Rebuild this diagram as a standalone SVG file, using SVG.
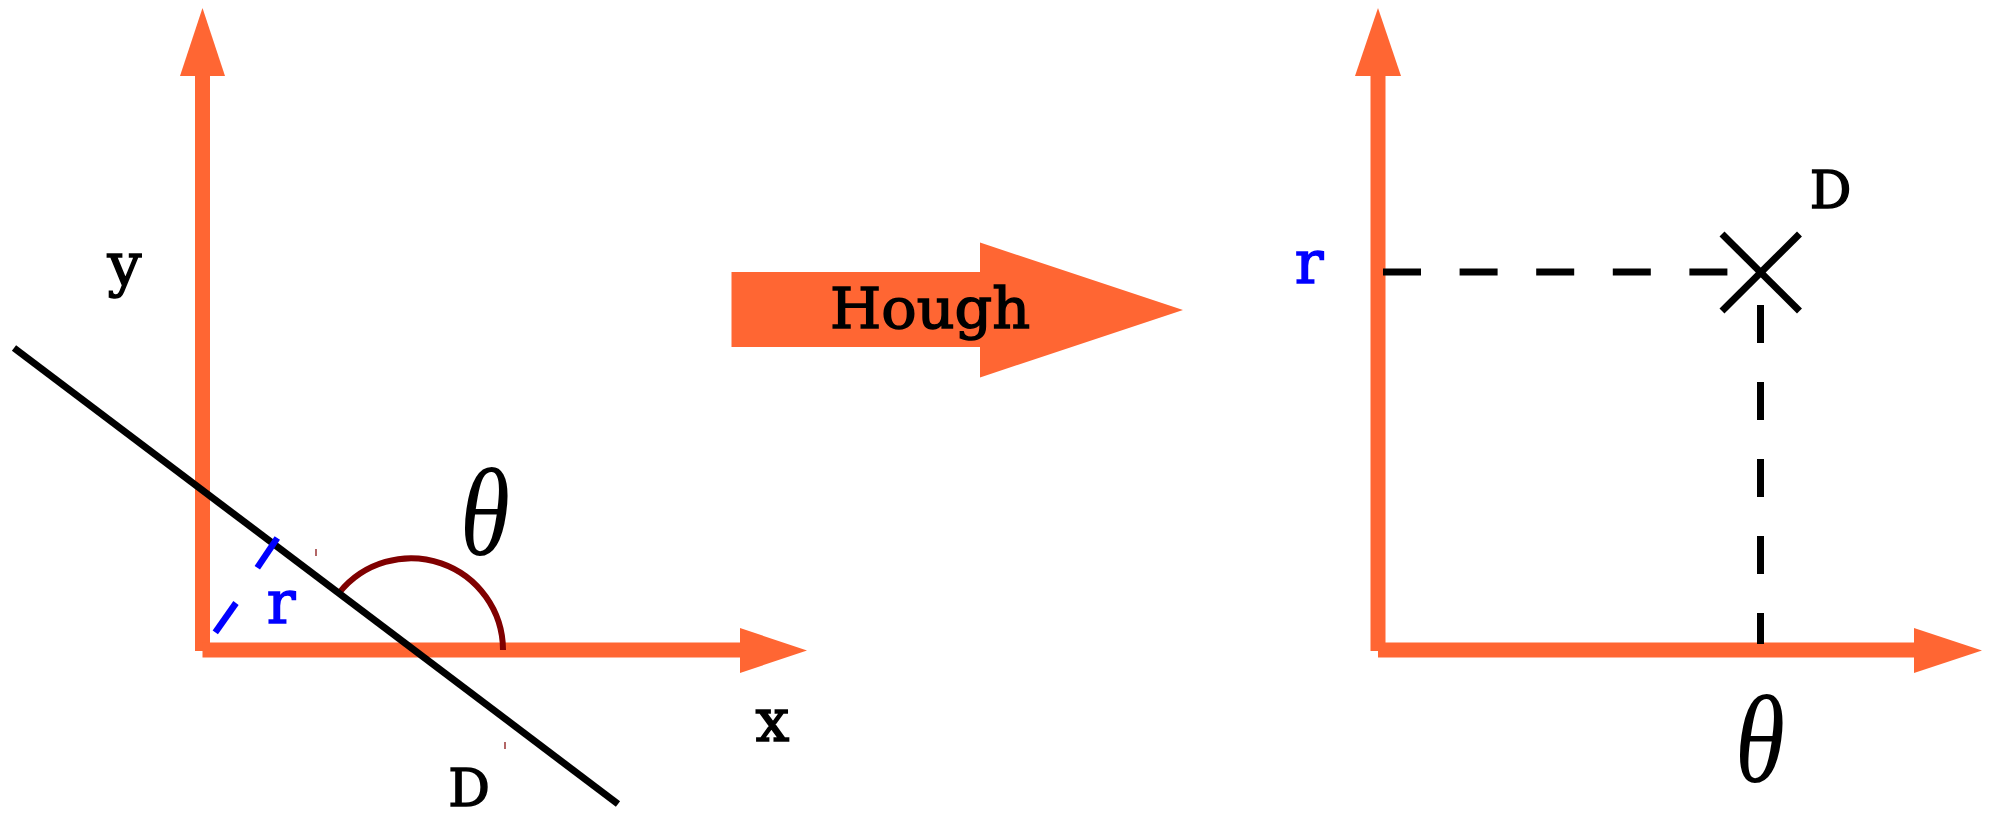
<svg xmlns="http://www.w3.org/2000/svg" width="1993" height="816" viewBox="0 0 1993 816">
  <style>
    .axis { stroke: #ff6633; stroke-width: 15; fill: none; }
    .head { fill: #ff6633; stroke: none; }
    .lbl { font-family: 'DejaVu Serif', 'Liberation Serif', serif; font-size: 56px; text-anchor: middle; fill: #000; stroke: #000; stroke-width: 1.5; }
    .cap { font-size: 52px; }
    .small { font-size: 60px; }
    .blue { fill: #0000ff; stroke: #0000ff; }
    .theta { font-family: 'Liberation Serif', 'Times New Roman', serif; font-style: italic; font-size: 124px; text-anchor: middle; fill: #000; }
    .blk { stroke: #000; stroke-width: 7; fill: none; }
    .bdash { stroke: #0000ff; stroke-width: 6.5; fill: none; }
    .arc { stroke: #800000; stroke-width: 6; fill: none; }
    .tick { stroke: #800000; stroke-width: 1.2; }
  </style>

  <g id="left-axes">
    <line class="axis" x1="202.5" y1="75" x2="202.5" y2="651"/>
    <polygon class="head" points="202.5,8 180,76 225,76"/>
    <line class="axis" x1="202.5" y1="650" x2="741" y2="650"/>
    <polygon class="head" points="740,628 807,650.5 740,673"/>
  </g>

  <g id="angle-arc">
    <path class="arc" d="M 339 593 A 92 92 0 0 1 503 650"/>
    <line class="tick" x1="316" y1="549" x2="316" y2="556"/>
    <line class="tick" x1="505" y1="742" x2="505" y2="749"/>
  </g>

  <g id="line-D">
    <line class="blk" x1="14" y1="348" x2="618" y2="804"/>
  </g>

  <g id="r-perpendicular">
    <line class="bdash" x1="215.3" y1="632.3" x2="236" y2="603"/>
    <line class="bdash" x1="257.3" y1="567.7" x2="277.3" y2="538"/>
  </g>

  <g id="left-labels">
    <text class="lbl small" x="124.5" y="285">y</text>
    <text class="lbl small" x="772.5" y="741">x</text>
    <text class="lbl cap" x="469" y="806">D</text>
    <text class="lbl small blue" x="281" y="623">r</text>
    <text class="theta" transform="translate(485 555) scale(0.82 1)" x="0" y="0">θ</text>
  </g>

  <g id="hough-arrow">
    <polygon class="head" points="731.5,272 980,272 980,242.5 1183,310 980,377.5 980,347 731.5,347"/>
    <text class="lbl" x="930" y="328" textLength="200" lengthAdjust="spacingAndGlyphs">Hough</text>
  </g>

  <g id="right-axes">
    <line class="axis" x1="1378" y1="75" x2="1378" y2="651"/>
    <polygon class="head" points="1378,8 1355,76 1401,76"/>
    <line class="axis" x1="1378" y1="650" x2="1915" y2="650"/>
    <polygon class="head" points="1914,628 1982,650.5 1914,673"/>
  </g>

  <g id="connectors">
    <line class="blk" x1="1383" y1="272" x2="1728" y2="272" stroke-dasharray="38 38.6"/>
    <line class="blk" x1="1760.5" y1="305" x2="1760.5" y2="644" stroke-dasharray="38 39"/>
  </g>

  <g id="point-D">
    <line class="blk" x1="1722" y1="234" x2="1799.5" y2="311"/>
    <line class="blk" x1="1799.5" y1="234" x2="1722" y2="311"/>
    <text class="lbl cap" x="1830.5" y="208">D</text>
  </g>

  <g id="right-labels">
    <text class="lbl small blue" x="1309" y="283">r</text>
    <text class="theta" transform="translate(1760 782) scale(0.82 1)" x="0" y="0">θ</text>
  </g>
</svg>
